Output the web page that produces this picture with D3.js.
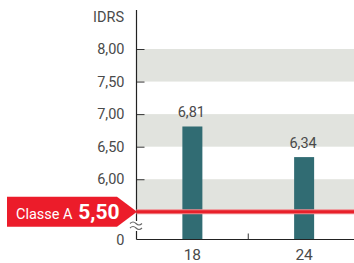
<!DOCTYPE html>
<html><head><meta charset="utf-8">
<script src="https://cdn.jsdelivr.net/npm/d3@7"></script>
<style>html,body{margin:0;padding:0;background:#fff}svg{display:block}</style>
</head><body><svg id="c" width="354" height="263"></svg>
<script>
const categories = ["18", "24"];
const values = [6.81, 6.34];
const valueLabels = ["6,81", "6,34"];
const yTicks = [6.0, 6.5, 7.0, 7.5, 8.0];
const bands = [[5.5, 6.0], [6.5, 7.0], [7.5, 8.0]];
const threshold = 5.5;
const thresholdLabel = "Classe A";
const thresholdValue = "5,50";
const yTitle = "IDRS";

const svg = d3.select("#c");
const W = 354, H = 263;
const x0 = 136.5, xAxisY = 239.5;
const fmt = v => d3.format(".2f")(v).replace(".", ",");
const textCol = "#4a4a4a";
const font = "Roboto, 'Open Sans', sans-serif";

const y = d3.scaleLinear().domain([5.5, 8.0]).range([211.8, 49]);
const x = d3.scaleBand().domain(categories).range([x0, 360]).padding(0);
const barW = 20;

// bands
svg.append("g").selectAll("rect").data(bands).join("rect")
  .attr("x", x0).attr("width", W - x0)
  .attr("y", d => y(d[1])).attr("height", d => y(d[0]) - y(d[1]))
  .attr("fill", "#e1e3de");

// bars
svg.append("g").selectAll("rect").data(values).join("rect")
  .attr("x", (d, i) => x(categories[i]) + x.bandwidth() / 2 - barW / 2)
  .attr("width", barW)
  .attr("y", d => y(d))
  .attr("height", d => xAxisY - y(d))
  .attr("fill", "#316c73");

// bar labels
svg.append("g").selectAll("text").data(values).join("text")
  .attr("x", (d, i) => x(categories[i]) + x.bandwidth() / 2 - 1)
  .attr("y", d => y(d) - 9.5)
  .attr("text-anchor", "middle")
  .attr("font-family", font).attr("font-size", 14.5)
  .attr("fill", textCol)
  .text((d, i) => valueLabels[i]);

// y axis ticks
const yAxis = d3.axisLeft(y).tickValues(yTicks).tickFormat(fmt)
  .tickSizeInner(-8).tickSizeOuter(0).tickPadding(12);
const gy = svg.append("g").attr("transform", `translate(${x0},0)`).call(yAxis);
gy.select(".domain").remove();
gy.selectAll(".tick line").attr("stroke", "#333").attr("stroke-width", 1);
gy.selectAll(".tick text").attr("font-family", font).attr("font-size", 14.5).attr("fill", textCol);

// zero tick
svg.append("text").attr("x", x0 - 12).attr("y", xAxisY).attr("dy", "0.35em")
  .attr("text-anchor", "end").attr("font-family", font).attr("font-size", 14.5)
  .attr("fill", textCol).text("0");

// y axis line with break
svg.append("line").attr("x1", x0).attr("x2", x0).attr("y1", 10).attr("y2", 221)
  .attr("stroke", "#222").attr("stroke-width", 1.2);
svg.append("line").attr("x1", x0).attr("x2", x0).attr("y1", 231).attr("y2", xAxisY)
  .attr("stroke", "#222").attr("stroke-width", 1.2);
const wave = (cy) => `M130,${cy} q3,-3 6,0 t6,0`;
[223.5, 228].forEach(cy => svg.append("path").attr("d", wave(cy))
  .attr("fill", "none").attr("stroke", "#666").attr("stroke-width", 1.1));

// y title
svg.append("text").attr("x", 124).attr("y", 22).attr("text-anchor", "end")
  .attr("font-family", font).attr("font-size", 14.5).attr("fill", textCol).text(yTitle);

// x axis
const xAxis = d3.axisBottom(x).tickSize(0).tickPadding(9);
const gx = svg.append("g").attr("transform", `translate(0,${xAxisY})`).call(xAxis);
gx.select(".domain").remove();
gx.selectAll(".tick text").attr("font-family", font).attr("font-size", 15.5).attr("fill", textCol);
svg.append("line").attr("x1", x0).attr("x2", W).attr("y1", xAxisY).attr("y2", xAxisY)
  .attr("stroke", "#222").attr("stroke-width", 1.2);
// separator tick between categories
svg.append("line").attr("x1", x(categories[1])).attr("x2", x(categories[1]))
  .attr("y1", xAxisY - 6).attr("y2", xAxisY).attr("stroke", "#333");

// threshold line
const ty = y(threshold);
svg.append("line").attr("x1", x0).attr("x2", W).attr("y1", ty).attr("y2", ty)
  .attr("stroke", "#f08a8e").attr("stroke-width", 5);
svg.append("line").attr("x1", x0).attr("x2", W).attr("y1", ty).attr("y2", ty)
  .attr("stroke", "#e8202a").attr("stroke-width", 3);

// threshold label arrow
svg.append("path")
  .attr("d", `M7,${ty - 15} L117,${ty - 15} L${x0 + 0.5},${ty} L117,${ty + 15} L7,${ty + 15} Z`)
  .attr("fill", "#ec1c2a");
const tl = svg.append("text").attr("x", 16).attr("y", ty + 7.5)
  .attr("font-family", font).attr("fill", "#fff");
tl.append("tspan").attr("font-size", 14.5).text(thresholdLabel + " ");
tl.append("tspan").attr("font-size", 21).attr("font-weight", "bold").attr("dx", 2).text(thresholdValue);
</script></body></html>
